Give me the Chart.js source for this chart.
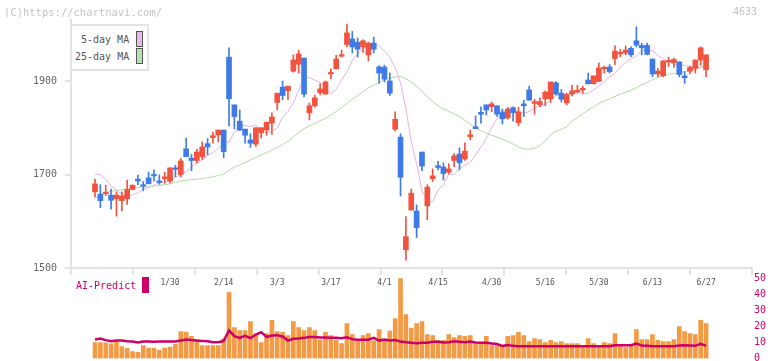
<!DOCTYPE html>
<html lang="ja">
<head>
<meta charset="UTF-8">
<title>4633 chart</title>
<script src="https://cdn.jsdelivr.net/npm/chart.js"></script>
<style>
  html, body { margin: 0; padding: 0; background: #fff; width: 772px; height: 361px; overflow: hidden; }
  #wrap { position: relative; width: 772px; height: 361px; font-family: "DejaVu Sans Mono", monospace; }
  #price { position: absolute; left: 0; top: 0; }
  #vol { position: absolute; left: 0; top: 270px; }
  .txt { position: absolute; white-space: nowrap; font-size: 10px; line-height: 10px; }
  .mark { color: #c4c4c4; }
  .legend-box { position: absolute; left: 70px; top: 24px; width: 75px; height: 43px; border: 2px solid #e4e4e4; background: #fff; }
  .swatch { position: absolute; width: 5px; height: 14px; border: 1px solid #555; }
</style>
</head>
<body>
<div id="wrap">
  <canvas id="price" width="772" height="290"></canvas>
  <canvas id="vol" width="772" height="91"></canvas>

  <div class="txt mark" style="left:4px; top:7px; font-size:10.5px;">(C)https://chartnavi.com/</div>
  <div class="txt mark" style="left:733px; top:7px;">4633</div>

  <div class="legend-box"></div>
  <div class="txt" style="left:81px; top:35px; color:#555;">5-day MA</div>
  <div class="swatch" style="left:136px; top:31px; background:#e8b8e8;"></div>
  <div class="txt" style="left:75px; top:52px; color:#555;">25-day MA</div>
  <div class="swatch" style="left:136px; top:48px; background:#b8e0ac;"></div>

  <div class="txt" style="left:76px; top:281px; color:#cc0066;">AI-Predict</div>
  <div style="position:absolute; left:142px; top:277px; width:7px; height:16px; background:#cc0066;"></div>
</div>

<script>
// trading days, 2025/1/9 - 6/27
const dates = [
  '1/9','1/10','1/14','1/15','1/16','1/17','1/20','1/21','1/22','1/23','1/24','1/27','1/28','1/29','1/30','1/31',
  '2/3','2/4','2/5','2/6','2/7','2/10','2/12','2/13','2/14','2/17','2/18','2/19','2/20','2/21','2/25','2/26','2/27','2/28',
  '3/3','3/4','3/5','3/6','3/7','3/10','3/11','3/12','3/13','3/14','3/17','3/18','3/19','3/21','3/24','3/25','3/26','3/27','3/28','3/31',
  '4/1','4/2','4/3','4/4','4/7','4/8','4/9','4/10','4/11','4/14','4/15','4/16','4/17','4/18','4/21','4/22','4/23','4/24','4/25','4/28','4/30',
  '5/1','5/2','5/7','5/8','5/9','5/12','5/13','5/14','5/15','5/16','5/19','5/20','5/21','5/22','5/23','5/26','5/27','5/28','5/29','5/30',
  '6/2','6/3','6/4','6/5','6/6','6/9','6/10','6/11','6/12','6/13','6/16','6/17','6/18','6/19','6/20','6/23','6/24','6/25','6/26','6/27'
];
const shownDates = ['1/30','2/14','3/3','3/17','4/1','4/15','4/30','5/16','5/30','6/13','6/27'];

const open = [
  1663,1658,1659,1656,1648,1644,1648,1668,1690,1677,
  1693,1699,1685,1691,1686,1714,1700,1755,1735,1730,
  1738,1766,1779,1785,1795,1951,1849,1814,1797,1774,
  1765,1789,1795,1810,1854,1887,1879,1921,1936,1949,
  1832,1847,1875,1872,1915,1926,1953,1978,1990,1983,
  1973,1956,1981,1930,1930,1900,1797,1780,1539,1624,
  1622,1748,1633,1691,1719,1716,1705,1730,1744,1733,
  1781,1802,1833,1849,1845,1847,1834,1821,1843,1811,
  1851,1881,1852,1849,1862,1862,1896,1874,1853,1872,
  1877,1881,1902,1894,1899,1926,1930,1948,1958,1960,
  1970,1986,1976,1976,1947,1915,1911,1941,1939,1941,
  1911,1921,1927,1945,1924
];
const high = [
  1690,1678,1677,1669,1663,1663,1688,1678,1699,1685,
  1705,1710,1699,1705,1715,1720,1734,1778,1743,1754,
  1770,1777,1791,1795,1795,1971,1849,1838,1797,1787,
  1800,1800,1812,1832,1874,1900,1889,1956,1966,1949,
  1853,1870,1894,1900,1926,1955,1966,2022,2006,1992,
  1988,1983,1994,1933,1934,1917,1834,1787,1610,1669,
  1635,1748,1678,1712,1728,1725,1723,1745,1757,1768,
  1795,1825,1845,1849,1855,1847,1840,1844,1845,1844,
  1859,1889,1861,1864,1879,1898,1899,1882,1874,1891,
  1891,1889,1917,1911,1939,1932,1935,1975,1968,1975,
  1973,2016,1981,1981,1947,1927,1943,1951,1949,1941,
  1920,1932,1945,1973,1956
];
const low = [
  1652,1629,1655,1626,1611,1622,1636,1667,1678,1665,
  1680,1686,1679,1681,1682,1695,1695,1738,1708,1725,
  1732,1742,1767,1770,1736,1804,1798,1794,1767,1758,
  1760,1778,1784,1786,1838,1860,1860,1919,1917,1866,
  1817,1844,1870,1872,1905,1926,1951,1973,1960,1951,
  1961,1943,1960,1895,1898,1869,1793,1654,1517,1624,
  1565,1708,1603,1685,1710,1688,1701,1716,1710,1730,
  1774,1798,1810,1827,1834,1824,1808,1818,1814,1804,
  1824,1859,1829,1845,1847,1854,1870,1855,1849,1868,
  1874,1874,1894,1894,1899,1917,1917,1935,1952,1956,
  1952,1973,1956,1956,1909,1909,1909,1931,1929,1909,
  1895,1915,1917,1934,1909
];
const close = [
  1680,1644,1662,1645,1656,1654,1668,1677,1686,1675,
  1680,1697,1683,1695,1714,1711,1729,1738,1730,1748,
  1759,1759,1783,1795,1749,1862,1824,1795,1784,1767,
  1800,1800,1812,1823,1874,1869,1889,1945,1958,1872,
  1847,1864,1883,1898,1918,1947,1955,2003,1973,1968,
  1986,1981,1968,1917,1904,1874,1818,1694,1567,1660,
  1586,1718,1673,1697,1715,1702,1712,1740,1725,1750,
  1785,1798,1829,1838,1851,1829,1819,1840,1832,1834,
  1847,1859,1856,1856,1876,1898,1872,1861,1871,1879,
  1878,1884,1894,1911,1928,1929,1920,1964,1961,1966,
  1956,1977,1971,1957,1915,1921,1943,1944,1946,1914,
  1907,1929,1945,1971,1956
];
const ma5 = [
  1701,1700,1690,1675,1667,1657,1652,1657,1660,1668,
  1672,1677,1683,1684,1686,1694,1700,1706,1717,1724,
  1731,1741,1747,1756,1769,1769,1790,1803,1805,1803,
  1806,1794,1789,1792,1800,1822,1835,1853,1880,1907,
  1907,1902,1897,1885,1873,1882,1902,1920,1944,1959,
  1969,1977,1982,1975,1964,1951,1929,1896,1841,1771,
  1723,1665,1645,1641,1667,1678,1701,1700,1713,1719,
  1726,1742,1759,1777,1800,1820,1829,1834,1836,1834,
  1831,1835,1843,1846,1850,1859,1869,1871,1872,1875,
  1876,1872,1874,1881,1889,1899,1909,1916,1930,1940,
  1948,1953,1965,1966,1965,1955,1948,1941,1936,1934,
  1934,1931,1928,1928,1933
];
const ma25 = [
  1649,1655,1661,1664,1666,1667,1669,1671,1672,1673,
  1674,1675,1677,1678,1680,1683,1686,1688,1689,1690,
  1691,1693,1695,1698,1701,1709,1716,1720,1726,1731,
  1736,1742,1747,1752,1758,1764,1771,1780,1790,1798,
  1804,1809,1815,1820,1827,1835,1843,1852,1861,1869,
  1877,1885,1891,1897,1902,1906,1909,1910,1905,1898,
  1889,1878,1866,1856,1847,1840,1835,1830,1824,1816,
  1808,1800,1794,1788,1784,1780,1776,1771,1765,1759,
  1755,1754,1756,1762,1772,1785,1792,1797,1802,1814,
  1822,1830,1838,1845,1852,1857,1862,1867,1872,1876,
  1880,1886,1892,1897,1903,1907,1911,1914,1916,1918,
  1920,1922,1925,1930,1934
];
const volume = [
  10.0,10.0,9.6,9.2,10.2,7.5,6.3,4.4,3.8,8.1,
  6.3,6.3,5.2,6.5,7.1,8.8,16.9,16.5,13.8,11.7,
  8.1,8.1,8.1,8.1,12.3,41.3,19.4,17.5,17.5,23.1,
  15.4,10.0,15.6,23.8,16.9,16.3,14.4,23.1,19.4,17.5,
  19.4,17.5,11.5,16.3,14.4,11.3,9.4,21.9,15.0,11.3,
  14.4,15.6,11.0,18.1,11.9,17.1,25.0,50.0,27.5,18.8,
  21.9,23.1,15.0,14.4,11.3,11.3,15.0,13.1,14.4,13.8,
  14.4,9.4,9.4,13.8,8.1,8.1,8.4,13.8,14.4,16.3,
  14.4,10.6,12.5,11.9,10.0,11.3,10.0,10.6,9.4,9.4,
  9.4,8.1,12.5,9.4,8.1,10.0,9.4,15.6,8.1,6.9,
  8.1,18.1,11.9,11.9,15.0,11.3,10.6,10.6,11.9,20.0,
  16.9,15.6,15.0,23.8,21.9
];
const aiPredict = [
  11.9,12.5,11.5,10.8,11.2,11.2,10.8,10.6,10.0,10.6,
  10.6,10.4,10.6,10.6,10.6,10.6,11.2,11.9,11.5,11.2,
  11.0,10.8,10.2,10.2,11.0,17.5,14.0,12.9,14.2,12.7,
  15.0,16.5,13.5,14.4,14.6,13.8,11.2,12.3,12.5,12.9,
  13.5,13.5,13.1,13.1,12.9,12.9,12.7,13.3,12.1,11.7,
  11.7,11.7,12.9,11.2,11.9,11.2,11.5,10.6,10.2,9.8,
  9.6,9.8,9.8,10.4,10.4,10.0,10.2,10.8,10.4,10.2,
  10.6,10.0,9.8,9.8,9.4,9.0,7.9,8.5,7.9,7.7,
  7.7,7.7,7.7,7.7,7.7,7.7,7.7,7.7,7.7,7.7,
  7.7,7.7,7.7,7.7,7.7,7.7,7.7,8.3,8.3,8.3,
  8.3,9.4,8.1,7.9,7.7,7.7,7.7,7.7,7.7,8.1,
  8.3,8.1,7.9,9.2,7.9
];
const priceTicks = [1500, 1700, 1900];
const volTicks = [0, 10, 20, 30, 40, 50];

const RED = '#f1533f';
const BLUE = '#3e7be8';
const AXIS = '#e2e2e2';
const FONT = 'DejaVu Sans Mono';

// x range shared by both charts so the bars line up
const xMin = -4.48, xMax = 122.57;

const candleColors = close.map((c, i) => c >= open[i] ? RED : BLUE);

new Chart(document.getElementById('price'), {
  type: 'bar',
  data: {
    datasets: [
      {
        type: 'line', label: '5-day MA', xAxisID: 'x',
        data: ma5.map((v, i) => ({x: i, y: v})),
        borderColor: '#e6b0e6', borderWidth: 1, pointRadius: 0, order: 3
      },
      {
        type: 'line', label: '25-day MA', xAxisID: 'x',
        data: ma25.map((v, i) => ({x: i, y: v})),
        borderColor: '#b0daa2', borderWidth: 1, pointRadius: 0, order: 4
      },
      {
        label: 'wick', xAxisID: 'x',
        data: low.map((v, i) => ({x: i, y: [v, high[i]]})),
        backgroundColor: candleColors, barThickness: 1, grouped: false, order: 2
      },
      {
        label: 'body', xAxisID: 'x',
        data: open.map((v, i) => ({x: i, y: [v, close[i]]})),
        backgroundColor: candleColors, barThickness: 5, minBarLength: 1.5, grouped: false, order: 1
      }
    ]
  },
  options: {
    responsive: false,
    animation: false,
    layout: { padding: { top: 20, right: 20, left: 0, bottom: 0 } },
    plugins: { legend: { display: false }, tooltip: { enabled: false } },
    scales: {
      x: {
        type: 'linear', min: xMin, max: xMax, offset: false,
        afterBuildTicks: s => {
          s.ticks = Array.from({length: 12}, (_, k) => ({value: xMin + k * (xMax - xMin) / 11}));
        },
        afterFit: s => { s.height = 22; },
        ticks: { display: false },
        grid: { offset: false, drawOnChartArea: false, color: AXIS, lineWidth: 2, tickLength: 7 },
        border: { color: AXIS, width: 2 }
      },
      y: {
        min: 1500, max: 2030.5,
        afterBuildTicks: s => { s.ticks = priceTicks.map(v => ({value: v})); },
        afterFit: s => { s.width = 71; },
        ticks: { color: '#666', font: { family: FONT, size: 10 }, padding: 8, callback: v => String(v) },
        grid: { drawOnChartArea: false, color: AXIS, lineWidth: 2, tickLength: 6 },
        border: { color: AXIS, width: 2 }
      }
    }
  }
});

new Chart(document.getElementById('vol'), {
  type: 'bar',
  data: {
    datasets: [
      {
        type: 'line', label: 'AI-Predict', xAxisID: 'x',
        data: aiPredict.map((v, i) => ({x: i, y: v})),
        borderColor: '#cc0066', borderWidth: 2.5, pointRadius: 0, order: 1
      },
      {
        label: 'volume', xAxisID: 'x',
        data: volume.map((v, i) => ({x: i, y: v})),
        backgroundColor: '#f39a45', barThickness: 4, order: 2
      }
    ]
  },
  options: {
    responsive: false,
    animation: false,
    layout: { padding: { top: 2, right: 0, left: 71, bottom: 2.5 } },
    plugins: { legend: { display: false }, tooltip: { enabled: false } },
    scales: {
      x: { type: 'linear', display: false, min: xMin, max: xMax, offset: false, grid: { offset: false } },
      y: {
        position: 'right', min: 0, max: 54.06,
        afterBuildTicks: s => { s.ticks = volTicks.map(v => ({value: v})); },
        afterFit: s => { s.width = 20; s.paddingTop = 0; s.paddingBottom = 0; },
        ticks: { color: '#cc0066', font: { family: FONT, size: 10 }, padding: 2 },
        grid: { display: false, drawTicks: false },
        border: { display: false }
      },
      dates: {
        type: 'linear', axis: 'x', min: xMin, max: xMax, offset: false,
        position: { y: 50.5 },
        afterBuildTicks: s => {
          s.ticks = dates.map((d, i) => ({value: i})).filter(t => shownDates.includes(dates[t.value]));
        },
        afterFit: s => { s.paddingTop = 0; s.paddingBottom = 0; s.height = 0; },
        ticks: {
          callback: v => dates[v] || '',
          color: '#555', font: { family: FONT, size: 8 },
          autoSkip: false, maxRotation: 0, padding: 0
        },
        grid: { display: false, drawTicks: false, offset: false },
        border: { display: false }
      }
    }
  }
});
</script>
</body>
</html>
